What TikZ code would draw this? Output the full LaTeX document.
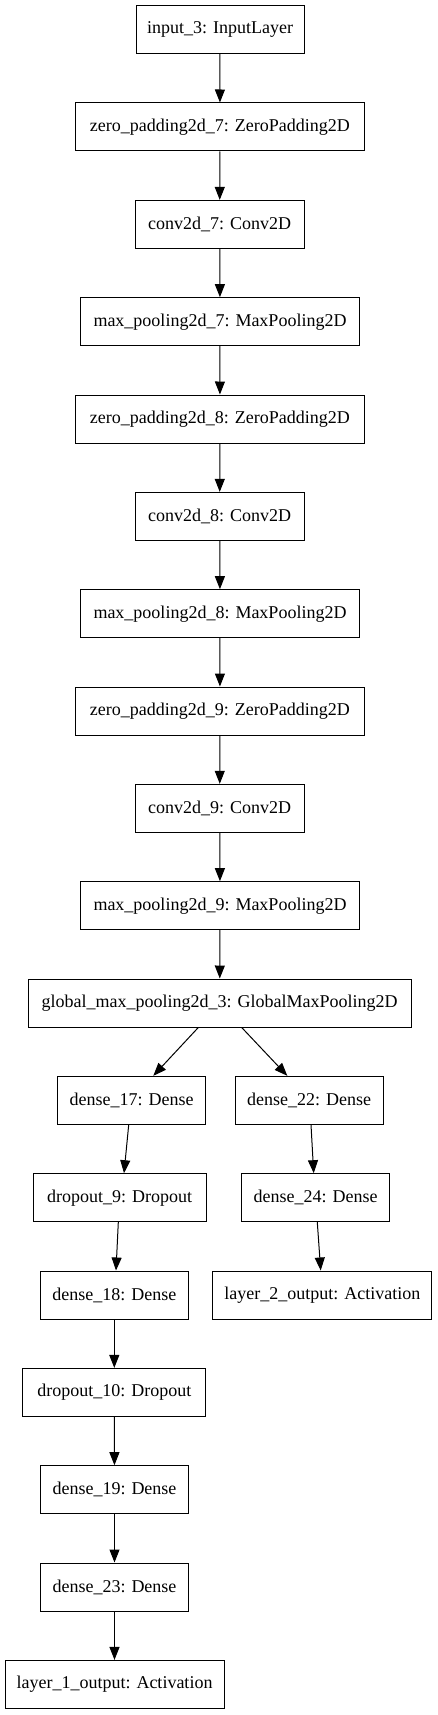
\documentclass[tikz,border=0pt]{standalone}
\usepackage{fontspec}
\setmainfont{Liberation Serif}
\usetikzlibrary{arrows.meta}
\begin{document}
\begin{tikzpicture}[x=1pt,y=-1pt,
  layer/.style={draw=black, line width=1pt, rectangle, minimum height=48pt, inner sep=0pt, font=\fontsize{18}{20}\selectfont},
  conn/.style={draw=black, line width=1pt, -{Triangle[length=13pt,width=10pt]}}]
\useasboundingbox (0,0) rectangle (437,1715);
\node[layer, minimum width=168pt] (in) at (220,29.7) {input\_3: InputLayer};
\node[layer, minimum width=289.7pt] (zp7) at (219.9,127) {zero\_padding2d\_7: ZeroPadding2D};
\node[layer, minimum width=169.3pt] (c7) at (219.7,224.4) {conv2d\_7: Conv2D};
\node[layer, minimum width=278.6pt] (mp7) at (220,321.7) {max\_pooling2d\_7: MaxPooling2D};
\node[layer, minimum width=289.7pt] (zp8) at (219.9,419) {zero\_padding2d\_8: ZeroPadding2D};
\node[layer, minimum width=169.3pt] (c8) at (219.7,516.4) {conv2d\_8: Conv2D};
\node[layer, minimum width=278.6pt] (mp8) at (220,613.7) {max\_pooling2d\_8: MaxPooling2D};
\node[layer, minimum width=289.7pt] (zp9) at (219.9,711) {zero\_padding2d\_9: ZeroPadding2D};
\node[layer, minimum width=169.3pt] (c9) at (219.7,808.3) {conv2d\_9: Conv2D};
\node[layer, minimum width=278.6pt] (mp9) at (220,905.7) {max\_pooling2d\_9: MaxPooling2D};
\node[layer, minimum width=382.7pt] (gmp) at (219.7,1003) {global\_max\_pooling2d\_3: GlobalMaxPooling2D};
\node[layer, minimum width=148pt] (d17) at (131.7,1100.3) {dense\_17: Dense};
\node[layer, minimum width=148.3pt] (d22) at (309.2,1100.3) {dense\_22: Dense};
\node[layer, minimum width=173.3pt] (do9) at (119.7,1197.7) {dropout\_9: Dropout};
\node[layer, minimum width=148pt] (d24) at (315.7,1197.7) {dense\_24: Dense};
\node[layer, minimum width=148pt] (d18) at (114.3,1295) {dense\_18: Dense};
\node[layer, minimum width=218.7pt] (l2) at (322.3,1295) {layer\_2\_output: Activation};
\node[layer, minimum width=183.3pt] (do10) at (114.3,1392.4) {dropout\_10: Dropout};
\node[layer, minimum width=148.4pt] (d19) at (114.5,1489.7) {dense\_19: Dense};
\node[layer, minimum width=148.4pt] (d23) at (114.5,1587) {dense\_23: Dense};
\node[layer, minimum width=219pt] (l1) at (114.5,1684.4) {layer\_1\_output: Activation};

\draw[conn] (in) -- (zp7);
\draw[conn] (zp7) -- (c7);
\draw[conn] (c7) -- (mp7);
\draw[conn] (mp7) -- (zp8);
\draw[conn] (zp8) -- (c8);
\draw[conn] (c8) -- (mp8);
\draw[conn] (mp8) -- (zp9);
\draw[conn] (zp9) -- (c9);
\draw[conn] (c9) -- (mp9);
\draw[conn] (mp9) -- (gmp);
\draw[conn] ([xshift=-21.4pt]gmp.south) -- ([xshift=21.6pt]d17.north);
\draw[conn] ([xshift=22pt]gmp.south) -- ([xshift=-21.9pt]d22.north);
\draw[conn] ([xshift=-3pt]d17.south) -- ([xshift=4.3pt]do9.north);
\draw[conn] ([xshift=-1.4pt]do9.south) -- ([xshift=1.7pt]d18.north);
\draw[conn] ([xshift=1.8pt]d22.south) -- ([xshift=-2pt]d24.north);
\draw[conn] ([xshift=1.6pt]d24.south) -- ([xshift=-1.6pt]l2.north);
\draw[conn] (d18) -- (do10);
\draw[conn] (do10) -- (d19);
\draw[conn] (d19) -- (d23);
\draw[conn] (d23) -- (l1);
\end{tikzpicture}
\end{document}
